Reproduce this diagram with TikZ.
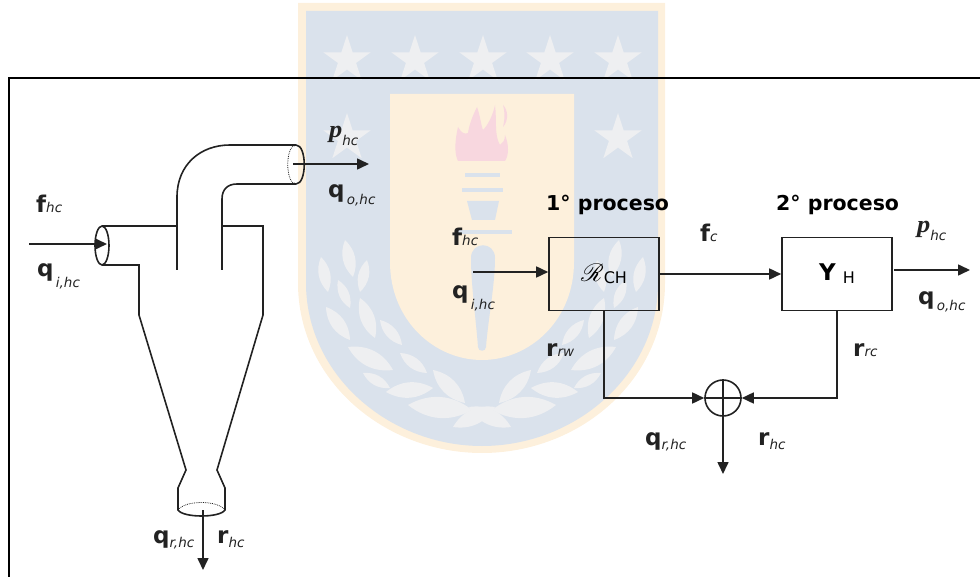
\documentclass[tikz,border=0pt]{standalone}
\usepackage{fontspec}
\usepackage{amsmath}
\usepackage{mathrsfs}
\usepackage{xcolor}
\usepackage{graphicx}
\setmainfont{DejaVu Sans}
\newfontfamily\serifgras{Liberation Serif}
\usetikzlibrary{
	calc,
	arrows.meta,
	shapes.geometric,
	positioning
	}
\definecolor{creme}{HTML}{FDF0DC}
\definecolor{bleuecu}{HTML}{DAE2EC}
\definecolor{grisecu}{HTML}{EEEFF1}
\definecolor{roseecu}{HTML}{F8D7DF}
\definecolor{trait}{HTML}{222222}
\tikzstyle{cadre}=[draw=black,line width=2pt]
\tikzstyle{tuyau}=[draw=trait,line width=1.6pt]
\tikzstyle{pointille}=[draw=trait,line width=0.8pt,densely dotted]
\tikzstyle{fleche}=[draw=trait,line width=1.6pt,-{Triangle[length=12pt,width=11pt]}]
\tikzstyle{liaison}=[draw=trait,line width=1.6pt]
\tikzstyle{bloc-std}=[draw=trait,line width=1.6pt,rectangle,minimum width=110pt,minimum height=73pt,inner sep=0pt]
\tikzstyle{somme-std}=[draw=trait,line width=1.6pt,circle,minimum size=36pt,inner sep=0pt]
\tikzstyle{etiquette}=[anchor=base west,inner sep=0pt,text=trait]
\tikzstyle{titre}=[anchor=base west,inner sep=0pt,font=\fontsize{20.5}{21}\selectfont\bfseries]
\tikzstyle{etoile}=[star,star points=5,star point ratio=2.618,fill=grisecu,minimum size=50pt,inner sep=0pt]
\newcommand{\grand}[1]{{\fontsize{23}{23}\selectfont\bfseries #1}}
\newcommand{\petit}[1]{{\fontsize{13.5}{14}\selectfont\itshape #1}}
\newcommand{\etiq}[3][0pt]{\grand{#2}\raisebox{-#1}{\petit{#3}}}
\newcommand{\etiqp}[1][0pt]{\scalebox{1.1}[1]{\fontsize{24}{24}\serifgras\bfseries\itshape p}\raisebox{-#1}{\petit{hc}}}

\begin{document}
\begin{tikzpicture}[x=1pt,y=-1pt]
\useasboundingbox (0,0) rectangle (980,577);
% ecusson
\fill[creme] (298,3) -- (665,3) -- (665,283) .. controls (665,380) and (580,453) .. (482,453) .. controls (384,453) and (298,380) .. (298,283) -- cycle;
\fill[bleuecu] (306,11) -- (658,11) -- (658,283) .. controls (658,375) and (575,446) .. (482,446) .. controls (389,446) and (306,375) .. (306,283) -- cycle;
\foreach \i/\xe/\ye in {1/347/60,2/415/60,3/483/60,4/550/60,5/618/60,6/347/138,7/618/138}
	\node[etoile] (etoile\i) at (\xe,\ye) {};
\fill[creme] (390,94) -- (574,94) -- (574,262) .. controls (574,320) and (530,360) .. (482,360) .. controls (434,360) and (390,320) .. (390,262) -- cycle;
\fill[roseecu] (458,161) .. controls (455,155) and (454,145) .. (458,127) .. controls (461,132) and (464,135) .. (468,133) .. controls (469,125) and (473,115) .. (477,107) .. controls (480,115) and (481,125) .. (483,130) .. controls (488,125) and (493,115) .. (495,105) .. controls (497,120) and (494,135) .. (500,145) .. controls (503,143) and (505,140) .. (505,135) .. controls (509,145) and (509,155) .. (505,161) -- cycle;
\fill[roseecu] (503,105) .. controls (508,110) and (509,120) .. (503,127) .. controls (505,118) and (505,112) .. (503,105) -- cycle;
\fill[bleuecu] (465,173) rectangle (500,177);
\fill[bleuecu] (462,188) rectangle (503,192);
\fill[bleuecu] (467,201) -- (499,201) -- (495,220) -- (472,220) -- cycle;
\fill[bleuecu] (455,230) rectangle (512,234);
\fill[bleuecu] (471,258) .. controls (471,241) and (495,241) .. (495,258) .. controls (495,285) and (488,320) .. (486,347) .. controls (486,352) and (478,352) .. (478,347) .. controls (476,320) and (471,285) .. (471,258) -- cycle;
% feuilles
\foreach \s in {1,-1}
	\foreach \ax/\ay/\bx/\by in {345/240/353/277,321/257/328/292,367/260/360/292,338/280/350/308,326/307/350/340,360/298/375/338,380/320/402/345,348/347/393/370,400/353/427/373,363/373/390/388,386/392/433/388,433/370/465/403,408/405/472/410,453/427/495/407}
		\fill[grisecu] ({482+\s*(\ax-482)},\ay) to[bend left=34] ({482+\s*(\bx-482)},\by) to[bend left=34] ({482+\s*(\ax-482)},\ay);
% cadre
\draw[cadre] (8.5,577) -- (8.5,78.5) -- (980,78.5);
% cyclon
\draw[tuyau] (102,226) -- (177,226);
\draw[tuyau] (222,226) -- (263,226) -- (263,315) -- (217,470) -- (225,488) -- (225,510) .. controls (220,518) and (183,518) .. (178,510) -- (178,488) -- (186,470) -- (139,315) -- (139,265) -- (102,265);
\draw[pointille] (178,510) .. controls (185,500) and (218,500) .. (225,510);
\draw[tuyau] (102,245.5) ellipse[x radius=7,y radius=19.5];
\draw[tuyau] (177,270) -- (177,197) .. controls (177,165) and (200,145) .. (230,145) -- (296,145);
\draw[tuyau] (222,270) -- (222,199) .. controls (222,189) and (228,184) .. (237,184) -- (296,184);
\draw[tuyau] (296,145) .. controls (307,145) and (307,184) .. (296,184);
\draw[pointille] (296,145) .. controls (285,145) and (285,184) .. (296,184);
\coordinate (entree-cyc) at (29,244);
\coordinate (entree-cyc-b) at (107,244);
\coordinate (sortie-cyc) at (293,164);
\coordinate (sortie-cyc-b) at (369,164);
\coordinate (bas-cyc) at (203,510);
\coordinate (bas-cyc-b) at (203,570);
\draw[fleche] (entree-cyc) -- (entree-cyc-b);
\draw[fleche] (sortie-cyc) -- (sortie-cyc-b);
\draw[fleche] (bas-cyc) -- (bas-cyc-b);
% blocs
\node[bloc-std] (bloc1) at (604,274) {\fontsize{24}{24}\selectfont$\mathscr{R}$\raisebox{-2pt}{\fontsize{16}{16}\selectfont CH}};
\node[bloc-std] (bloc2) at (837,274) {\grand{Y}\hspace{7pt}\raisebox{-3pt}{\fontsize{16}{16}\selectfont H}};
\node[somme-std] (somme) at (723,398) {};
\draw[liaison] (somme.north) -- (somme.south);
\draw[liaison] (somme.west) -- (somme.east);
\coordinate (entree1) at (473,272);
\coordinate (sortie2) at (894,270);
\coordinate (sortie2-b) at (970,270);
\coordinate (rejet) at (723,474);
\draw[fleche] (entree1) -- (entree1 -| bloc1.west);
\draw[fleche] (bloc1.east) -- (bloc2.west);
\draw[fleche] (sortie2) -- (sortie2-b);
\draw[fleche] (bloc1.south) |- (somme.west);
\draw[fleche] (bloc2.south) |- (somme.east);
\draw[fleche] (somme.south) -- (rejet);
% textes
\node[titre] (titre1) at (546,211) {1° proceso};
\node[titre] (titre2) at (776,211) {2° proceso};
\node[etiquette] (fhc1) at (36,213) {\etiq{f}{hc}};
\node[etiquette] (qi1) at (37,277) {\etiq[11pt]{q}{\,i,hc}};
\node[etiquette] (p1) at (329,138) {\etiqp[8pt]};
\node[etiquette] (qo1) at (328,198) {\etiq[7pt]{q}{\,o,hc}};
\node[etiquette] (qr1) at (153,543) {\etiq[4pt]{q}{r,hc}};
\node[etiquette] (rhc1) at (217,543) {\etiq[4pt]{r}{hc}};
\node[etiquette] (fhc2) at (452,246) {\etiq{f}{hc}};
\node[etiquette] (qi2) at (452,299) {\etiq[11pt]{q}{\,i,hc}};
\node[etiquette] (fc) at (700,242) {\etiq{f}{c}};
\node[etiquette] (p2) at (917,233) {\etiqp[8pt]};
\node[etiquette] (qo2) at (918,305) {\etiq[6pt]{q}{\,o,hc}};
\node[etiquette] (rrw) at (546,356) {\etiq{r}{rw}};
\node[etiquette] (rrc) at (853,356) {\etiq{r}{rc}};
\node[etiquette] (qr2) at (645,445) {\etiq[4pt]{q}{r,hc}};
\node[etiquette] (rhc2) at (758,445) {\etiq[4pt]{r}{hc}};
\end{tikzpicture}
\end{document}
